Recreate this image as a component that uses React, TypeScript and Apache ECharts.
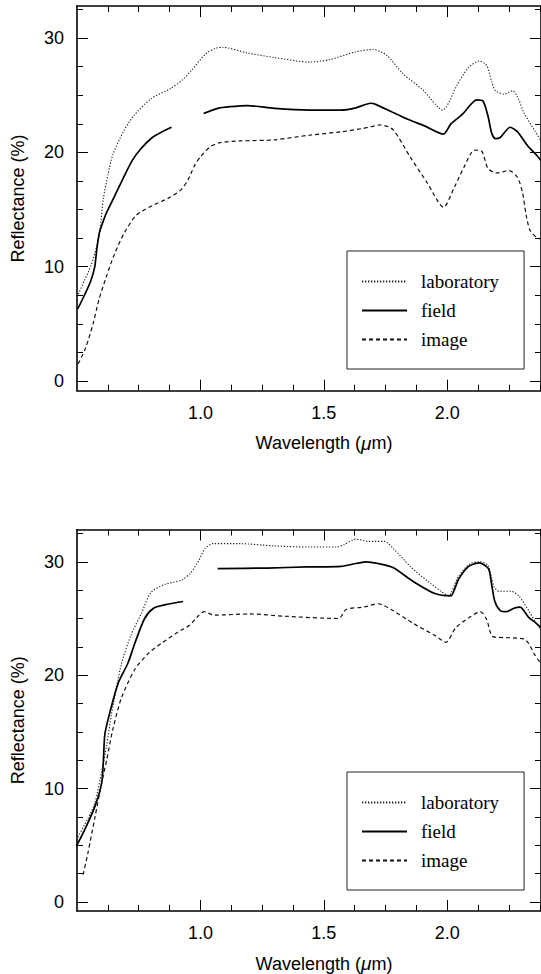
import React, { useEffect, useRef } from "react";
import * as echarts from "echarts";

// ---------- axis ticks ----------
const xMajorTicks = [1.0, 1.5, 2.0];
const xMinorTicks = [0.625, 0.75, 0.875, 1.125, 1.25, 1.375, 1.625, 1.75, 1.875, 2.125, 2.25, 2.375];
const yMajorTicks = [0, 10, 20, 30];
const yMinorTicks = [2.5, 5, 7.5, 12.5, 15, 17.5, 22.5, 25, 27.5, 32.5];
const legendNames = ["laboratory", "field", "image"];

// ---------- upper panel ----------
const labTop = [
  [0.506, 7.6], [0.53, 8.8], [0.557, 10.1], [0.58, 11.8], [0.593, 13.2], [0.607, 16.0], [0.625, 18.0],
  [0.645, 19.8], [0.69, 21.9], [0.73, 23.2], [0.8, 24.7], [0.88, 25.6], [0.925, 26.3], [0.965, 27.2],
  [1.02, 28.6], [1.06, 29.1], [1.09, 29.2], [1.19, 28.7], [1.3, 28.3], [1.44, 27.9], [1.52, 28.1],
  [1.63, 28.8], [1.7, 29.0], [1.755, 28.5], [1.82, 26.9], [1.9, 25.5], [1.982, 23.7], [2.04, 25.9],
  [2.085, 27.4], [2.13, 28.0], [2.16, 27.6], [2.18, 26.2], [2.195, 25.4], [2.23, 25.1], [2.265, 25.4],
  [2.29, 24.6], [2.31, 23.5], [2.355, 21.9], [2.38, 21.0],
];
const fieldTopA = [
  [0.503, 6.3], [0.53, 7.5], [0.555, 8.7], [0.572, 10.0], [0.58, 11.5], [0.59, 12.9], [0.6, 13.6],
  [0.617, 14.6], [0.644, 15.8], [0.684, 17.6], [0.724, 19.3], [0.758, 20.3], [0.805, 21.3],
  [0.845, 21.8], [0.883, 22.2],
];
const fieldTopB = [
  [1.013, 23.4], [1.07, 23.85], [1.12, 24.0], [1.19, 24.1], [1.3, 23.85], [1.44, 23.7], [1.57, 23.7],
  [1.63, 23.9], [1.69, 24.3], [1.71, 24.2], [1.77, 23.6], [1.84, 22.9], [1.91, 22.3], [1.985, 21.6],
  [2.015, 22.5], [2.06, 23.3], [2.12, 24.6], [2.145, 24.5], [2.165, 23.2], [2.18, 21.7], [2.195, 21.2],
  [2.215, 21.3], [2.255, 22.2], [2.285, 21.8], [2.325, 20.6], [2.36, 19.8], [2.38, 19.3],
];
const imageTop = [
  [0.505, 1.5], [0.535, 2.9], [0.565, 5.0], [0.59, 7.2], [0.62, 9.2], [0.65, 11.0], [0.69, 12.9],
  [0.74, 14.5], [0.81, 15.4], [0.87, 16.0], [0.92, 16.7], [0.95, 17.6], [0.975, 18.8], [1.0, 19.6],
  [1.04, 20.5], [1.08, 20.85], [1.16, 21.0], [1.3, 21.1], [1.44, 21.5], [1.57, 21.8], [1.66, 22.1],
  [1.73, 22.4], [1.78, 22.0], [1.85, 19.6], [1.92, 17.3], [1.985, 15.2], [2.03, 17.0], [2.07, 18.8],
  [2.11, 20.2], [2.14, 20.1], [2.165, 18.6], [2.2, 18.2], [2.25, 18.4], [2.285, 17.8], [2.305, 16.5],
  [2.32, 14.5], [2.335, 13.2], [2.36, 12.6], [2.38, 12.4],
];

// ---------- lower panel ----------
const labBot = [
  [0.498, 5.5], [0.545, 7.4], [0.572, 8.7], [0.6, 11.5], [0.62, 13.8], [0.64, 16.6], [0.68, 21.0],
  [0.72, 23.6], [0.76, 25.4], [0.8, 27.3], [0.855, 28.0], [0.925, 28.4], [0.96, 29.0], [0.993, 30.1],
  [1.02, 31.2], [1.05, 31.6], [1.16, 31.6], [1.3, 31.4], [1.44, 31.3], [1.55, 31.3], [1.58, 31.5],
  [1.63, 32.0], [1.68, 31.8], [1.745, 31.8], [1.785, 31.1], [1.85, 29.6], [1.92, 28.3], [1.975, 27.4],
  [2.005, 27.0], [2.045, 28.7], [2.09, 29.8], [2.13, 30.0], [2.165, 29.7], [2.19, 27.8], [2.21, 27.4],
  [2.26, 27.4], [2.29, 27.0], [2.33, 25.7], [2.36, 24.6], [2.38, 24.0],
];
const fieldBotA = [
  [0.497, 4.9], [0.532, 6.4], [0.573, 8.45], [0.6, 10.5], [0.607, 12.5], [0.613, 14.8], [0.633, 16.7],
  [0.667, 19.3], [0.707, 21.1], [0.734, 22.8], [0.774, 25.0], [0.81, 25.9], [0.855, 26.2], [0.93, 26.5],
];
const fieldBotB = [
  [1.07, 29.4], [1.27, 29.45], [1.43, 29.55], [1.57, 29.6], [1.63, 29.85], [1.672, 30.0], [1.72, 29.85],
  [1.78, 29.5], [1.86, 28.3], [1.95, 27.2], [2.015, 27.0], [2.03, 27.6], [2.047, 28.5], [2.087, 29.6],
  [2.13, 29.9], [2.167, 29.4], [2.18, 28.0], [2.193, 26.5], [2.215, 25.7], [2.24, 25.6], [2.27, 25.9],
  [2.295, 26.0], [2.33, 25.1], [2.36, 24.6], [2.38, 24.2],
];
const imageBot = [
  [0.525, 2.4], [0.545, 4.4], [0.573, 7.5], [0.6, 10.5], [0.62, 12.5], [0.645, 15.2], [0.68, 18.0],
  [0.734, 20.5], [0.788, 21.9], [0.841, 22.8], [0.909, 23.8], [0.956, 24.4], [0.99, 25.2], [1.016, 25.6],
  [1.056, 25.3], [1.2, 25.4], [1.34, 25.2], [1.56, 25.0], [1.59, 25.8], [1.66, 26.0], [1.72, 26.3],
  [1.78, 25.7], [1.86, 24.6], [1.95, 23.5], [1.995, 22.9], [2.035, 24.2], [2.09, 25.1], [2.135, 25.6],
  [2.16, 24.9], [2.185, 23.4], [2.25, 23.3], [2.31, 23.2], [2.33, 22.8], [2.355, 21.8], [2.38, 21.0],
];

const SANS = "'Liberation Sans', Arial, Helvetica, sans-serif";
const SERIF = "'Liberation Serif', 'Times New Roman', serif";

const X_MIN = 0.5;
const X_MAX = 2.38;

function buildAxes(gi: number, yMin: number, yMax: number) {
  const line = { show: true, onZero: false, lineStyle: { color: "#000", width: 1.6 } };
  const tickStyle = { color: "#000", width: 1 };
  const base = { type: "value", gridIndex: gi, splitLine: { show: false } };
  const xAxes = [
    {
      ...base, position: "bottom", min: X_MIN, max: X_MAX, axisLine: line,
      axisTick: { show: true, inside: true, length: 11, customValues: xMajorTicks, lineStyle: tickStyle },
      axisLabel: {
        show: true, customValues: xMajorTicks, formatter: (v: number) => v.toFixed(1),
        color: "#000", fontSize: 18, fontFamily: SANS, margin: 13,
      },
      name: "Wavelength ({mu|\u03bc}m)", nameLocation: "middle", nameGap: 43,
      nameTextStyle: {
        color: "#000", fontSize: 18, fontFamily: SANS, padding: [0, 0, 0, 30],
        rich: { mu: { fontStyle: "italic", fontSize: 19, fontFamily: SANS, color: "#000" } },
      },
    },
    {
      ...base, position: "bottom", min: X_MIN, max: X_MAX, axisLine: { show: false, onZero: false },
      axisTick: { show: true, inside: true, length: 6, customValues: xMinorTicks, lineStyle: tickStyle },
      axisLabel: { show: false },
    },
    {
      ...base, position: "top", min: X_MIN, max: X_MAX, axisLine: line,
      axisTick: { show: true, inside: true, length: 11, customValues: xMajorTicks, lineStyle: tickStyle },
      axisLabel: { show: false },
    },
    {
      ...base, position: "top", min: X_MIN, max: X_MAX, axisLine: { show: false, onZero: false },
      axisTick: { show: true, inside: true, length: 6, customValues: xMinorTicks, lineStyle: tickStyle },
      axisLabel: { show: false },
    },
  ];
  const yAxes = [
    {
      ...base, position: "left", min: yMin, max: yMax, axisLine: line,
      axisTick: { show: true, inside: true, length: 11, customValues: yMajorTicks, lineStyle: tickStyle },
      axisLabel: {
        show: true, customValues: yMajorTicks, color: "#000", fontSize: 18, fontFamily: SANS, margin: 13,
      },
      name: "Reflectance (%)", nameLocation: "middle", nameGap: 50,
      nameTextStyle: { color: "#000", fontSize: 18, fontFamily: SANS },
    },
    {
      ...base, position: "left", min: yMin, max: yMax, axisLine: { show: false, onZero: false },
      axisTick: { show: true, inside: true, length: 6, customValues: yMinorTicks, lineStyle: tickStyle },
      axisLabel: { show: false },
    },
    {
      ...base, position: "right", min: yMin, max: yMax, axisLine: line,
      axisTick: { show: true, inside: true, length: 11, customValues: yMajorTicks, lineStyle: tickStyle },
      axisLabel: { show: false },
    },
    {
      ...base, position: "right", min: yMin, max: yMax, axisLine: { show: false, onZero: false },
      axisTick: { show: true, inside: true, length: 6, customValues: yMinorTicks, lineStyle: tickStyle },
      axisLabel: { show: false },
    },
  ];
  return { xAxes, yAxes };
}

const styles: Record<string, any> = {
  laboratory: { color: "#222", width: 1.1, type: [1.3, 1.7] },
  field: { color: "#000", width: 1.7, type: "solid" },
  image: { color: "#111", width: 1.2, type: [4, 3] },
};

function lineSeries(name: string, data: number[][], gi: number) {
  return {
    type: "line", name, data, xAxisIndex: gi * 4, yAxisIndex: gi * 4,
    symbol: "none", smooth: 0.25, silent: true, clip: true,
    lineStyle: styles[name], itemStyle: { color: styles[name].color },
    emphasis: { disabled: true },
  };
}

function legendAt(top: number) {
  return {
    data: legendNames, orient: "vertical", left: 347, top,
    itemWidth: 45, itemHeight: 19, itemGap: 10,
    padding: [21, 25, 20, 14], borderColor: "#222", borderWidth: 1,
    selectedMode: false,
    itemStyle: { color: "rgba(0,0,0,0)", borderColor: "rgba(0,0,0,0)", borderWidth: 0, opacity: 0 },
    textStyle: { fontFamily: SERIF, fontSize: 19, color: "#000", padding: [0, 0, 0, 9] },
  };
}

export default function App() {
  const ref = useRef<HTMLDivElement>(null);
  useEffect(() => {
    document.body.style.margin = "0";
    if (!ref.current) return;
    const chart = echarts.init(ref.current, undefined, { renderer: "svg" });
    const a0 = buildAxes(0, -0.85, 32.8);
    const a1 = buildAxes(1, -0.8, 32.85);
    chart.setOption({
      animation: false,
      backgroundColor: "#fff",
      grid: [
        { left: 77, top: 6.1, width: 469, height: 384.6 },
        { left: 77, top: 529.5, width: 469, height: 382.6 },
      ],
      xAxis: [...a0.xAxes, ...a1.xAxes],
      yAxis: [...a0.yAxes, ...a1.yAxes],
      legend: [legendAt(251), legendAt(772)],
      series: [
        lineSeries("laboratory", labTop, 0),
        lineSeries("field", fieldTopA, 0),
        lineSeries("field", fieldTopB, 0),
        lineSeries("image", imageTop, 0),
        lineSeries("laboratory", labBot, 1),
        lineSeries("field", fieldBotA, 1),
        lineSeries("field", fieldBotB, 1),
        lineSeries("image", imageBot, 1),
      ],
    });
    return () => chart.dispose();
  }, []);
  return <div ref={ref} style={{ width: 541, height: 974 }} />;
}
